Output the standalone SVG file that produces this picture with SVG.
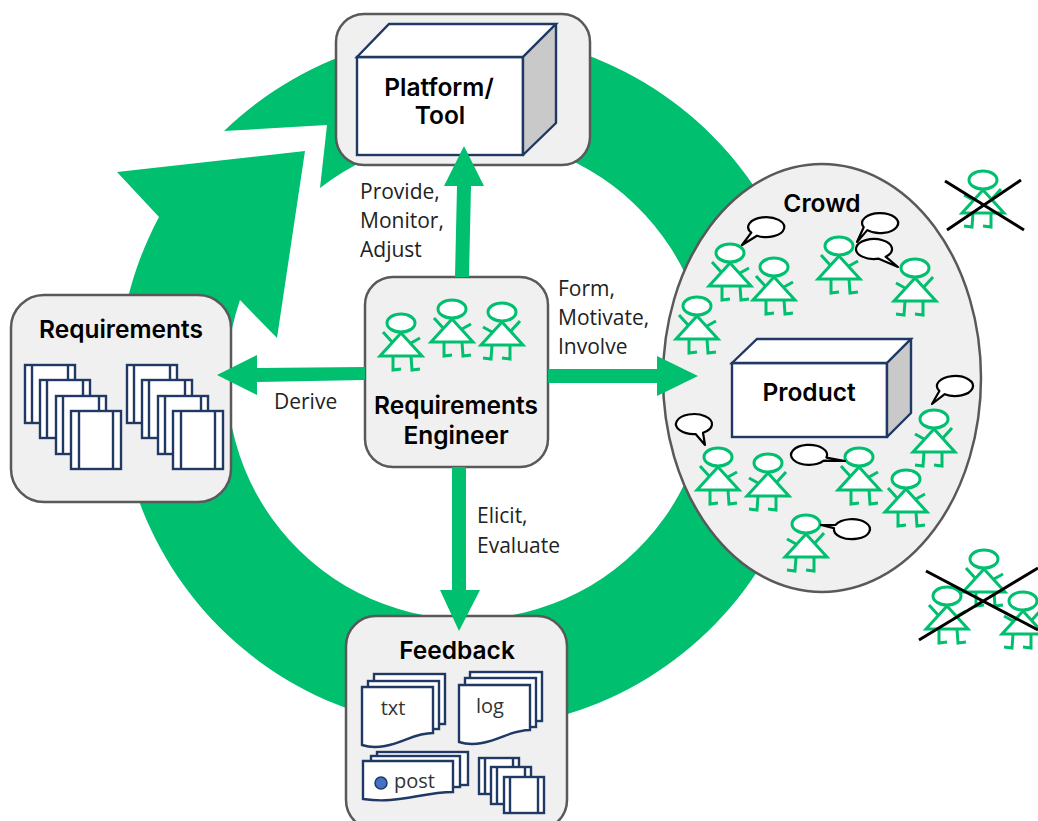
<svg xmlns="http://www.w3.org/2000/svg" width="1038" height="821" viewBox="0 0 1038 821">
<style>
.box{fill:#f0f0f0;stroke:#595959;stroke-width:2.5}
.ln{fill:#fff;stroke:#1f3864;stroke-width:2.4}
.side{fill:#c9c9c9;stroke:#1f3864;stroke-width:2.4;stroke-linejoin:round}
.g{fill:#00bf6f}
.p{fill:#fff;stroke:#00bf6f;stroke-width:3}
.q{fill:none;stroke:#00bf6f;stroke-width:3}
.sb{fill:#fff;stroke:#000;stroke-width:2.2;stroke-linejoin:round}
.x{stroke:#000;stroke-width:3}
.t{font-family:Inter,"Liberation Sans",sans-serif;font-weight:600;font-size:24.5px;fill:#000;text-anchor:middle}
.l{font-family:"Open Sans","Liberation Sans",sans-serif;font-size:21px;fill:#222}
.s{font-family:"Open Sans","Liberation Sans",sans-serif;font-size:20px;fill:#333}
</style>
<defs>
<g id="pa">
<path class="q" d="M-18 9L-8 20M19 15L10 20M0 9V11M-8 33V47L0 46M10 33L11 47L19 46"/>
<path class="p" d="M0 10L21 33H-21Z"/>
<ellipse class="p" cx="0" cy="0" rx="14" ry="9"/>
</g>
<g id="pb"><use href="#pa" transform="scale(-1 1)"/></g>
<g id="doc4">
<rect class="ln" x="0" y="0" width="50" height="58"/><path class="ln" d="M7 0V58M43 0V58"/>
<rect class="ln" x="15" y="15" width="50" height="58"/><path class="ln" d="M22 15V73M58 15V73"/>
<rect class="ln" x="31" y="31" width="50" height="58"/><path class="ln" d="M38 31V89M74 31V89"/>
<rect class="ln" x="46" y="46" width="50" height="58"/><path class="ln" d="M54 46V104M88 46V104"/>
</g>
</defs>

<g id="cycle">
<path class="g" d="M224 131A348 348 0 1 1 159 217L117 172L305 151L277 338L240 300A241 241 0 1 0 320 188L327 125Z"/>
</g>

<g id="platform">
<rect class="box" x="336" y="14" width="254" height="151" rx="28"/>
<rect class="ln" x="357" y="57" width="166" height="98"/>
<path class="ln" d="M357 57L389 24H556L523 57Z"/>
<path class="side" d="M523 57L556 24V123L523 155Z"/>
<text class="t" x="439" y="96">Platform/</text>
<text class="t" x="440" y="124">Tool</text>
</g>

<g id="crowd">
<ellipse class="box" cx="822" cy="378" rx="159" ry="214"/>
<text class="t" x="822" y="212">Crowd</text>
<g id="product">
<rect class="ln" x="732" y="363" width="155" height="74"/>
<path class="ln" d="M732 363L757 339H911L887 363Z"/>
<path class="side" d="M887 363L911 339V413L887 437Z"/>
<text class="t" x="809" y="401">Product</text>
</g>
<use href="#pa" x="730" y="253"/><use href="#pa" x="774" y="267"/><use href="#pa" x="839" y="246"/><use href="#pb" x="915" y="268"/><use href="#pa" x="697" y="306"/>
<use href="#pb" x="934" y="419"/><use href="#pa" x="718" y="457"/><use href="#pb" x="768" y="463"/><use href="#pa" x="859" y="457"/><use href="#pa" x="906" y="479"/><use href="#pb" x="806" y="524"/>
<path class="sb" d="M751.3 232.7A18 10 0 1 1 757 235.7L742 245Z"/>
<path class="sb" d="M863.7 227.2A18 10 0 1 1 867.3 230.1L857 242Z"/>
<path class="sb" d="M878.7 258.7A18 10 0 1 1 885.6 256.7L898 267Z"/>
<path class="sb" d="M939.4 391A18 10 0 1 1 944.7 394.2L932 404Z"/>
<path class="sb" d="M695.6 434A18 10 0 1 1 703 432.7L705 445Z"/>
<path class="sb" d="M823.7 460.7A18 10 0 1 1 826.4 457.6L845 461Z"/>
<path class="sb" d="M835.7 524.8A18 10 0 1 1 834 528.1L821 525Z"/>
</g>

<g id="removed-one">
<use href="#pb" x="983" y="180"/>
<path class="x" d="M945 181L1024 230M1021 180L947 230"/>
</g>
<g id="removed-group">
<use href="#pa" x="984" y="559"/><use href="#pa" x="947" y="596"/><use href="#pb" x="1023" y="601"/>
<path class="x" d="M926 571L1038 630M919 640L1038 568"/>
</g>

<g id="requirements">
<rect class="box" x="11" y="295" width="220" height="207" rx="33"/>
<text class="t" x="121" y="338">Requirements</text>
<use href="#doc4" x="25" y="365"/><use href="#doc4" x="127" y="365"/>
</g>

<g id="engineer">
<rect class="box" x="365" y="277" width="183" height="190" rx="28"/>
<use href="#pa" x="401" y="323"/><use href="#pa" x="452" y="309"/><use href="#pb" x="502" y="312"/>
<text class="t" x="456" y="414">Requirements</text>
<text class="t" x="456" y="444">Engineer</text>
</g>

<g id="feedback">
<rect class="box" x="346" y="616" width="221" height="214" rx="30"/>
<text class="t" x="457" y="659">Feedback</text>
<rect class="ln" x="374" y="674" width="71" height="50"/><rect class="ln" x="368" y="681" width="71" height="48"/>
<path class="ln" d="M362 687H433V733C415 733 405 742 385 746C375 748 368 747 362 745Z"/>
<text class="s" x="393" y="715" text-anchor="middle">txt</text>
<rect class="ln" x="470" y="672" width="72" height="49"/><rect class="ln" x="465" y="678" width="71" height="49"/>
<path class="ln" d="M459 685H530V730C512 730 502 739 482 743C472 745 465 744 459 742Z"/>
<text class="s" x="490" y="713" text-anchor="middle">log</text>
<rect class="ln" x="377" y="752" width="91" height="33"/><rect class="ln" x="371" y="756" width="89" height="31"/>
<path class="ln" d="M363 761H453V792C430 792 410 799 390 800C380 801 370 800 363 799Z"/>
<circle cx="381" cy="783" r="6" fill="#4472c4" stroke="#1f3864" stroke-width="1.5"/>
<text class="s" x="394" y="788">post</text>
<rect class="ln" x="479" y="758" width="40" height="36"/><path class="ln" d="M485 758V794M513 758V794"/>
<rect class="ln" x="491" y="767" width="40" height="37"/><path class="ln" d="M497 767V804M525 767V804"/>
<rect class="ln" x="504" y="777" width="40" height="36"/><path class="ln" d="M510 777V813M538 777V813"/>
</g>

<g id="connectors">
<path class="g" d="M455 277L457 186H444L464 146L484 186H471L469 277Z"/>
<path class="g" d="M548 369H657V356L698 376L657 396V383H548Z"/>
<path class="g" d="M365 367L257 368V355L217 375L257 395V382L365 380Z"/>
<path class="g" d="M452 467H466V590H480L459 631L440 590H452Z"/>
</g>

<g id="labels">
<text class="l" x="360" y="199">Provide,</text>
<text class="l" x="360" y="228">Monitor,</text>
<text class="l" x="360" y="257">Adjust</text>
<text class="l" x="558" y="296">Form,</text>
<text class="l" x="558" y="325">Motivate,</text>
<text class="l" x="558" y="354">Involve</text>
<text class="l" x="274" y="409">Derive</text>
<text class="l" x="477" y="523">Elicit,</text>
<text class="l" x="477" y="553">Evaluate</text>
</g>
</svg>
